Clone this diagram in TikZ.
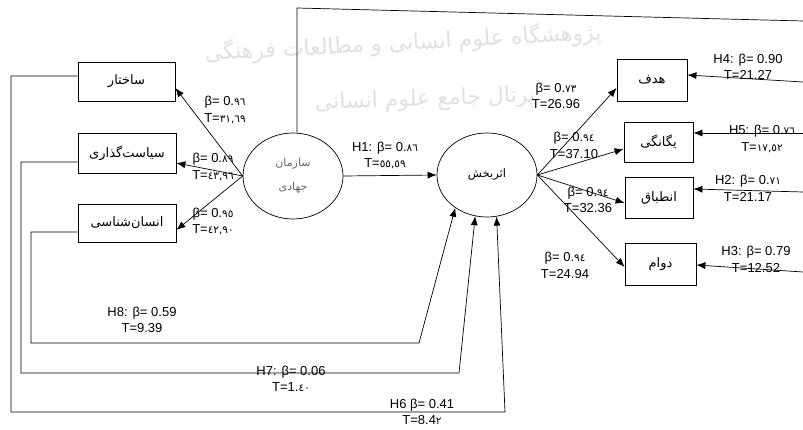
\documentclass[tikz,border=0pt]{standalone}
\usepackage{fontspec}
\setmainfont{Liberation Sans}
\newfontfamily\arabicfont[Script=Arabic]{DejaVu Sans}
\newfontfamily\digfont{DejaVu Sans}
\TeXXeTstate=1
\usetikzlibrary{arrows.meta,shapes.geometric}
\newcommand\fa[1]{{\arabicfont\beginR #1\endR}}
\newcommand\ad[1]{{\digfont\fontsize{10.5}{12}\selectfont #1}}
\begin{document}
\begin{tikzpicture}[x=1pt,y=-1pt,
  box/.style={draw, line width=0.8pt, inner sep=0pt, font=\arabicfont\fontsize{13}{15}\selectfont},
  oval/.style={draw, ellipse, line width=0.7pt, inner sep=0pt},
  lbl/.style={align=center, inner sep=0pt, font=\fontsize{13}{16.5}\selectfont},
  arr/.style={-{Latex[length=9pt,width=7pt]}, line width=0.7pt},
  ln/.style={line width=0.7pt},
  wm/.style={text=black!12, font=\arabicfont\fontsize{22}{26}\selectfont, inner sep=0pt}]
\useasboundingbox (0,0) rectangle (803,430);
% watermark
\node[wm, rotate=3] (wm1) at (403,43) {\fa{پژوهشگاه علوم انسانی و مطالعات فرهنگی}};
\node[wm, rotate=2] (wm2) at (425,100) {\fa{پرتال جامع علوم انسانی}};
% boxes
\node[box, minimum width=97pt, minimum height=39pt] (sakhtar) at (126.5,81.5) {\fa{ساختار}};
\node[box, minimum width=98pt, minimum height=40pt] (siasat) at (127,153) {\fa{سیاست‌گذاری}};
\node[box, minimum width=98pt, minimum height=38pt] (ensan) at (127,223) {\fa{انسان‌شناسی}};
\node[box, minimum width=70pt, minimum height=42pt] (hadaf) at (652,80) {\fa{هدف}};
\node[box, minimum width=69pt, minimum height=40pt] (yegan) at (658.5,142) {\fa{یگانگی}};
\node[box, minimum width=68pt, minimum height=41pt] (enteb) at (659,197.5) {\fa{انطباق}};
\node[box, minimum width=71pt, minimum height=42pt] (davam) at (660.5,264) {\fa{دوام}};
% ellipses
\node[oval, minimum width=100pt, minimum height=86pt, align=center, text=black!60,
  font=\arabicfont\fontsize{11}{24}\selectfont] (sazman) at (293,176) {\fa{سازمان}\\\fa{جهادی}};
\node[oval, minimum width=100pt, minimum height=84pt,
  font=\arabicfont\fontsize{11.5}{14}\selectfont] (etthar) at (487,175) {\raisebox{4pt}{\fa{اثربخش}}};
% connectors
\draw[arr] (sazman.west) -- ([yshift=-6.5pt]sakhtar.east);
\draw[arr] (sazman.west) -- ([yshift=-10pt]siasat.east);
\draw[arr] (sazman.west) -- ([yshift=-7pt]ensan.east);
\draw[arr] (sazman.east) -- (etthar.west);
\draw[arr] (etthar.east) -- ([yshift=-8pt]hadaf.west);
\draw[arr] (etthar.east) -- ([yshift=-7pt]yegan.west);
\draw[arr] (etthar.east) -- ([yshift=-5.5pt]enteb.west);
\draw[arr] (etthar.east) -- ([yshift=-3pt]davam.west);
\coordinate (r4) at (803,82);
\coordinate (r5) at (803,133);
\coordinate (r2) at (803,192);
\coordinate (r3) at (803,272);
\draw[arr] (r4) -- ([yshift=5pt]hadaf.east);
\draw[arr] (r5) -- ([yshift=9pt]yegan.east);
\draw[arr] (r2) -- ([yshift=8.5pt]enteb.east);
\draw[arr] (r3) -- ([yshift=-1pt]davam.east);
\coordinate (tl) at (297,8);
\coordinate (tr) at (803,21);
\draw[ln] (sazman.north -| tl) -- (tl) -- (tr);
\draw[arr] ([yshift=-9pt]ensan.west) -- (31,232) -- (31,343) -- (419,343) -- (etthar.226);
\draw[arr] ([yshift=-9pt]siasat.west) -- (21,162) -- (21,373) -- (459,373) -- (etthar.254);
\draw[arr] ([yshift=5.5pt]sakhtar.west) -- (11,76) -- (11,412) -- (505,412) -- (etthar.283);
% labels
\node[lbl] (l1) at (225,110) {β= 0.\ad{٩٦}\\T=\ad{٣١,٦٩}};
\node[lbl] (l2) at (213,167) {β= 0.\ad{٨٩}\\T=\ad{٤٣,٩٦}};
\node[lbl] (l3) at (213,221.5) {β= 0.\ad{٩٥}\\T=\ad{٤٢,٩٠}};
\node[lbl] (lh1) at (385,155.5) {H1: β= 0.\ad{٨٦}\\T=\ad{٥٥,٥٩}};
\node[lbl] (l4) at (556,96) {β= 0.\ad{٧٣}\\T=26.96};
\node[lbl] (l5) at (574,145.5) {β= 0.\ad{٩٤}\\T=37.10};
\node[lbl] (l6) at (588,200) {β= 0.\ad{٩٤}\\T=32.36};
\node[lbl] (l7) at (565,265.5) {β= 0.\ad{٩٤}\\T=24.94};
\node[lbl] (lh4) at (748,67) {H4: β= 0.90\\T=21.27};
\node[lbl] (lh5) at (762,139) {H5: β= 0.\ad{٧٦}\\T=\ad{١٧,٥٢}};
\node[lbl] (lh2) at (748,188.5) {H2: β= 0.\ad{٧١}\\T=21.17};
\node[lbl] (lh3) at (756,259.5) {H3: β= 0.79\\T=12.52};
\node[lbl] (lh8) at (142,320) {H8: β= 0.59\\T=9.39};
\node[lbl] (lh7) at (291,379) {H7: β= 0.06\\T=1.\ad{٤٠}};
\node[lbl] (lh6) at (422,412) {H6 β= 0.41\\T=8.4\ad{٢}};
\end{tikzpicture}
\end{document}
